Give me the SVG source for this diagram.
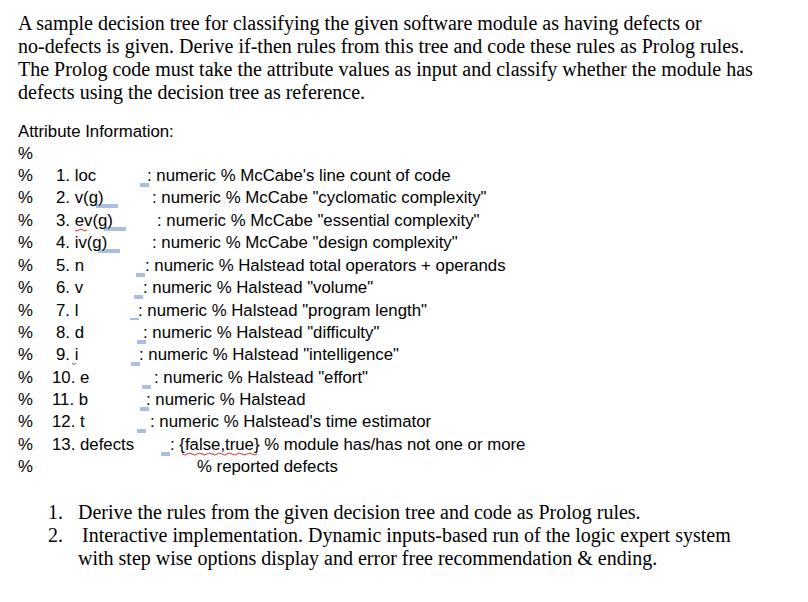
<svg xmlns="http://www.w3.org/2000/svg" width="808" height="602" viewBox="0 0 808 602">
<style>
.s{font-family:"Liberation Serif",serif;font-size:20px;fill:#000}
.c{font-family:"Liberation Sans",sans-serif;font-size:16.8px;fill:#000}
.u{stroke:#2f5eb5;stroke-width:0.8;fill:none}
.w{stroke:#d03030;stroke-width:1;fill:none}
</style>
<rect width="808" height="602" fill="#fff"/>
<g id="intro">
<text class="s" x="18" y="30">A sample decision tree for classifying the given software module as having defects or</text>
<text class="s" x="18" y="53">no-defects is given. Derive if-then rules from this tree and code these rules as Prolog rules.</text>
<text class="s" x="18" y="76">The Prolog code must take the attribute values as input and classify whether the module has</text>
<text class="s" x="18" y="99">defects using the decision tree as reference.</text>
</g>
<g id="attrs">
<text class="c" x="18" y="137">Attribute Information:</text>
<text class="c" x="18" y="159">%</text>
<g id="pct">
<text class="c" x="18" y="181">%</text><text class="c" x="18" y="203">%</text><text class="c" x="18" y="226">%</text><text class="c" x="18" y="248">%</text><text class="c" x="18" y="271">%</text><text class="c" x="18" y="293">%</text><text class="c" x="18" y="316">%</text><text class="c" x="18" y="338">%</text><text class="c" x="18" y="360">%</text><text class="c" x="18" y="383">%</text><text class="c" x="18" y="405">%</text><text class="c" x="18" y="427">%</text><text class="c" x="18" y="450">%</text><text class="c" x="18" y="472">%</text>
</g>
<text class="c" x="56" y="181">1. loc</text><text class="c" x="147" y="181">: numeric % McCabe's line count of code</text>
<text class="c" x="56" y="203">2. v(g)</text><text class="c" x="152" y="203">: numeric % McCabe "cyclomatic complexity"</text>
<text class="c" x="56" y="226">3. ev(g)</text><text class="c" x="157" y="226">: numeric % McCabe "essential complexity"</text>
<text class="c" x="56" y="248">4. iv(g)</text><text class="c" x="152" y="248">: numeric % McCabe "design complexity"</text>
<text class="c" x="56" y="271">5. n</text><text class="c" x="145" y="271">: numeric % Halstead total operators + operands</text>
<text class="c" x="56" y="293">6. v</text><text class="c" x="143" y="293">: numeric % Halstead "volume"</text>
<text class="c" x="56" y="316">7. l</text><text class="c" x="138" y="316">: numeric % Halstead "program length"</text>
<text class="c" x="56" y="338">8. d</text><text class="c" x="143" y="338">: numeric % Halstead "difficulty"</text>
<text class="c" x="56" y="360">9. i</text><text class="c" x="139" y="360">: numeric % Halstead "intelligence"</text>
<text class="c" x="52" y="383">10. e</text><text class="c" x="154" y="383">: numeric % Halstead "effort"</text>
<text class="c" x="52" y="405">11. b</text><text class="c" x="146" y="405">: numeric % Halstead</text>
<text class="c" x="52" y="427">12. t</text><text class="c" x="150" y="427">: numeric % Halstead's time estimator</text>
<text class="c" x="52" y="450">13. defects</text><text class="c" x="170" y="450">: {false,true} % module has/has not one or more</text>
<text class="c" x="197" y="472">% reported defects</text>
</g>
<g id="marks">
<path class="u" d="M140 184h9M140 186h9M96 205h22M96 207h22M104 228h22M104 230h22M98 250h22M98 252h22M136 274h9M136 276h9M134 296h9M134 298h9M130 319h9M137 341h9M137 343h9M131 363h9M131 365h9M142 386h9M142 388h9M140 408h9M140 410h9M137 430h9M137 432h9M161 453h9M161 455h9"/>
<path class="w" d="M75 230q2 2 4 0t4 0t4 0M72 363q2 3 4 0M182 454q3 2 5 0t5 0t5 0t5 0t5 0t5 0t5 0t5 0t5 0t5 0t5 0t5 0t5 0t5 0t5 0"/>
</g>
<g id="tasks">
<text class="s" x="48" y="519">1.</text><text class="s" x="78" y="519">Derive the rules from the given decision tree and code as Prolog rules.</text>
<text class="s" x="48" y="542">2.</text><text class="s" x="82" y="542">Interactive implementation. Dynamic inputs-based run of the logic expert system</text>
<text class="s" x="78" y="565">with step wise options display and error free recommendation &amp; ending.</text>
</g>
</svg>
